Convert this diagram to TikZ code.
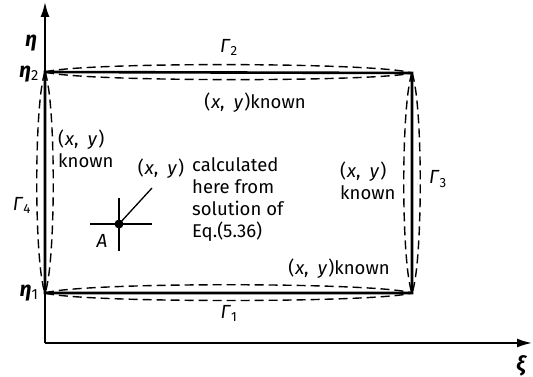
\documentclass[tikz,border=0pt]{standalone}
\usepackage{fontspec}
\setmainfont{Fira Sans}
\usetikzlibrary{arrows.meta}
\newcommand{\xyp}{(\kern1pt\textit{x},\enspace\textit{y}\kern1pt)}
\begin{document}
\begin{tikzpicture}[x=1pt,y=-1pt,
  solidline/.style={line width=2.6pt},
  axisline/.style={line width=1.8pt,-{Latex[length=15pt,width=9pt]}},
  dashline/.style={line width=1.4pt,dash pattern=on 9pt off 5pt},
  lbl/.style={font=\fontsize{18.5}{22}\selectfont,inner sep=0pt},
  lblblock/.style={lbl,align=left,font=\fontsize{18.5}{22}\selectfont},
  gam/.style={lbl,font=\fontsize{19}{22}\selectfont},
  axlbl/.style={font=\fontsize{21}{24}\selectfont\bfseries\itshape,inner sep=0pt}]
\useasboundingbox (0,0) rectangle (533,377);
% corners
\coordinate (TL) at (45,72);
\coordinate (TR) at (412,73);
\coordinate (BR) at (412,293);
\coordinate (BL) at (45,293);
\coordinate (O) at (45,343);
\coordinate (Ytip) at (45,2);
\coordinate (Xtip) at (532,343);
% axes
\draw[axisline] (O) -- (Ytip);
\draw[axisline] (O) -- (Xtip);
% rectangle
\draw[solidline,line join=miter] (TL) -- (TR) -- (BR) -- (BL) -- cycle;
% dashed boundaries
\draw[dashline] (TL) .. controls (80,62) and (377,62) .. (TR);
\draw[dashline] (TL) .. controls (80,82) and (377,82) .. (TR);
\draw[dashline] (BL) .. controls (80,282) and (377,282) .. (BR);
\draw[dashline] (BL) .. controls (80,303) and (377,303) .. (BR);
\draw[dashline] (TL) .. controls (34,102) and (34,263) .. (BL);
\draw[dashline] (TL) .. controls (56,102) and (56,263) .. (BL);
\draw[dashline] (TR) .. controls (401,103) and (401,263) .. (BR);
\draw[dashline] (TR) .. controls (423,103) and (423,263) .. (BR);
% axis labels
\node[axlbl] (eta) at (31,43) {η};
\node[axlbl] (eta2) at (29,74) {η\textsubscript{\mdseries\upshape 2}};
\node[axlbl] (eta1) at (29,293) {η\textsubscript{\mdseries\upshape 1}};
\node[axlbl] (xi) at (521,366) {ξ};
% Gamma labels
\node[gam] (G2) at (229,47) {\textit{Γ}\textsubscript{2}};
\node[gam] (G1) at (229,313) {\textit{Γ}\textsubscript{1}};
\node[gam] (G4) at (22,205) {\textit{Γ}\textsubscript{4}};
\node[gam] (G3) at (438,179) {\textit{Γ}\textsubscript{3}};
% known labels
\node[lbl] (k1) at (255,103) {\xyp known};
\node[lbl] (k2) at (339,269) {\xyp known};
\node[lblblock,anchor=west] (k3) at (58,149) {\xyp\\known};
\node[lblblock,anchor=west] (k4) at (340,181) {\xyp\\known};
% point A
\coordinate (A) at (119,224);
\draw[line width=1.3pt] (90,224) -- (152,224);
\draw[line width=1.3pt] (119,198) -- (119,251);
\fill (A) circle (4.5pt);
\node[gam] (Alab) at (102,241) {\textit{A}};
\node[lbl] (xyc) at (161,169) {\xyp};
\coordinate (lend) at (152,188);
\draw[line width=1.3pt] (A) -- (lend);
\node[lblblock,anchor=north west] (calc) at (192,157) {calculated\\here from\\solution of\\Eq.(5.36)};
\end{tikzpicture}
\end{document}
